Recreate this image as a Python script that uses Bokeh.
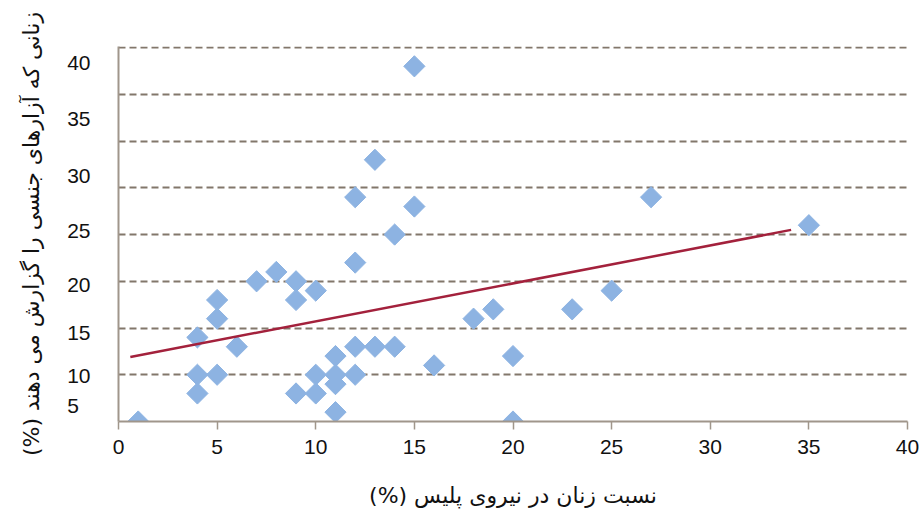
from bokeh.plotting import figure
from bokeh.models import Range1d, FixedTicker, ColumnDataSource
from bokeh.embed import file_html
from bokeh.resources import INLINE
import math

# Women's share of police force (%)
police_share = [1, 4, 4, 4, 5, 5, 5, 6, 7, 8, 9, 9, 9, 10, 10, 10, 11, 11, 11, 11,
                12, 12, 12, 12, 13, 13, 14, 14, 15, 15, 16, 18, 19, 20, 20, 23, 25, 27, 35]
# Women reporting sexual assault (%), read against the gridlines
reporting = [5, 14, 10, 8, 18, 16, 10, 13, 20, 21, 20, 18, 8, 19, 10, 8, 12, 10, 9, 6,
             29, 22, 13, 10, 33, 13, 25, 13, 43, 28, 11, 16, 17, 12, 5, 17, 19, 29, 26]

# trend line end points
trend_x = [0.6, 34.1]
trend_y = [11.9, 25.5]

x_ticks = [0, 5, 10, 15, 20, 25, 30, 35, 40]
grid_values = [10, 15, 20, 25, 30, 35, 40, 45]
# y tick labels as placed in the picture
y_label_pos = [6.7, 9.9, 14.5, 19.7, 25.4, 31.3, 37.4, 43.4]
y_label_text = ["5\u2007", "10", "15", "20", "25", "30", "35", "40"]

RLM = "\u200f"
x_title = "نسبت زنان در نیروی پلیس (%)" + RLM
y_title = "زنانی که آزارهای جنسی را گزارش می دهند (%)" + RLM

p = figure(width=920, height=513, x_range=Range1d(0, 40), y_range=Range1d(5, 45.12),
           output_backend="svg", toolbar_location=None,
           min_border_left=118, min_border_right=13, min_border_top=46, min_border_bottom=92)

p.outline_line_color = None
p.background_fill_color = "white"
p.border_fill_color = "white"

axis_col = "#a0968b"
grid_col = "#82776b"

# x axis
p.xaxis.ticker = FixedTicker(ticks=x_ticks)
p.xaxis.axis_line_color = axis_col
p.xaxis.axis_line_width = 2
p.xaxis.major_tick_line_color = axis_col
p.xaxis.major_tick_line_width = 1.5
p.xaxis.major_tick_out = 8
p.xaxis.major_tick_in = 0
p.xaxis.minor_tick_line_color = None
p.xaxis.major_label_text_font = "Liberation Sans"
p.xaxis.major_label_text_font_size = "21px"
p.xaxis.major_label_text_color = "#111111"
p.xaxis.major_label_standoff = 10
p.xaxis.axis_label = x_title
p.xaxis.axis_label_text_font = "DejaVu Sans"
p.xaxis.axis_label_text_font_style = "normal"
p.xaxis.axis_label_text_font_size = "22px"
p.xaxis.axis_label_text_color = "#111111"
p.xaxis.axis_label_standoff = 26

# y axis
p.yaxis.ticker = FixedTicker(ticks=y_label_pos)
p.yaxis.major_label_overrides = {pos: txt for pos, txt in zip(y_label_pos, y_label_text)}
p.yaxis.axis_line_color = axis_col
p.yaxis.axis_line_width = 2
p.yaxis.major_tick_line_color = None
p.yaxis.minor_tick_line_color = None
p.yaxis.major_tick_out = 0
p.yaxis.major_tick_in = 0
p.yaxis.major_label_text_font = "Liberation Sans"
p.yaxis.major_label_text_font_size = "21px"
p.yaxis.major_label_text_color = "#111111"
p.yaxis.major_label_standoff = 28
p.yaxis.axis_label = y_title
p.yaxis.axis_label_text_font = "DejaVu Sans"
p.yaxis.axis_label_text_font_style = "normal"
p.yaxis.axis_label_text_font_size = "22px"
p.yaxis.axis_label_text_color = "#111111"
p.yaxis.axis_label_standoff = 20

# grids
p.xgrid.grid_line_color = None
p.ygrid.ticker = FixedTicker(ticks=grid_values)
p.ygrid.grid_line_color = grid_col
p.ygrid.grid_line_width = 2
p.ygrid.grid_line_dash = "7 4"

src = ColumnDataSource(dict(x=police_share, y=reporting))
p.scatter("x", "y", source=src, marker="square", size=15, angle=math.pi / 4,
          fill_color="#8db3e2", line_color="#8db3e2")

p.line(trend_x, trend_y, line_color="#a3213c", line_width=2.5)

open("out.html", "w").write(file_html(p, INLINE))
